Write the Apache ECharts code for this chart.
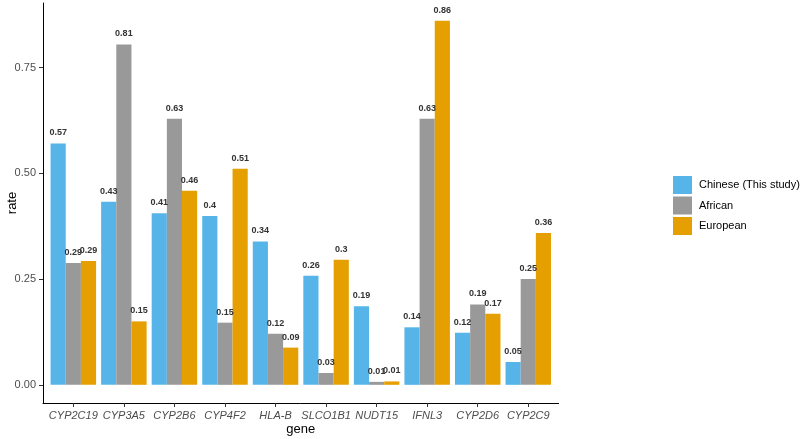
<!DOCTYPE html>
<html>
<head>
<meta charset="utf-8">
<script src="https://cdn.jsdelivr.net/npm/echarts@6/dist/echarts.min.js"></script>
<style>html,body{margin:0;padding:0;background:#fff;}#c{width:800px;height:439px;}</style>
</head>
<body>
<div id="c"></div>
<script>
var genes = ['CYP2C19','CYP3A5','CYP2B6','CYP4F2','HLA-B','SLCO1B1','NUDT15','IFNL3','CYP2D6','CYP2C9'];
var chinese = [0.571, 0.433, 0.406, 0.399, 0.339, 0.258, 0.186, 0.136, 0.123, 0.054];
var african = [0.288, 0.805, 0.629, 0.147, 0.121, 0.028, 0.007, 0.629, 0.190, 0.250];
var european = [0.293, 0.150, 0.459, 0.511, 0.088, 0.296, 0.008, 0.861, 0.168, 0.359];
var yTicks = [0, 0.25, 0.5, 0.75];
var seriesNames = ['Chinese (This study)', 'African', 'European'];
var colors = ['#56B4E9', '#999999', '#E69F00'];

var FONT = 'Liberation Sans, Arial, sans-serif';
var yMin = -0.043, yMax = 0.903;
var chart = echarts.init(document.getElementById('c'));

function mk(name, data, color) {
  return {
    name: name, type: 'bar', xAxisIndex: 1, yAxisIndex: 1, data: data,
    barGap: '0%', barCategoryGap: '10%',
    itemStyle: { color: color },
    label: {
      show: true, position: 'top', distance: 6,
      fontFamily: FONT, fontSize: 9, fontWeight: 'bold', color: '#333',
      formatter: function (p) { return String(Math.round(p.value * 100) / 100); }
    },
    animation: false
  };
}

chart.setOption({
  animation: false,
  grid: [
    { left: 43, right: 241.4, top: 3, bottom: 36, outerBoundsMode: 'none', containLabel: false },
    { left: 48.05, right: 246.45, top: 3, bottom: 36, outerBoundsMode: 'none', containLabel: false }
  ],
  legend: {
    orient: 'vertical', left: 673, top: 176, padding: 0,
    itemWidth: 19, itemHeight: 18, itemGap: 2.5,
    icon: 'rect',
    data: seriesNames,
    textStyle: { fontFamily: FONT, fontSize: 11, color: '#000', padding: [0, 0, 0, 2] }
  },
  xAxis: [
    { gridIndex: 0, type: 'value', min: 0, max: 1,
      axisLine: { show: true, onZero: false, lineStyle: { color: '#000', width: 1 } },
      axisTick: { show: false }, axisLabel: { show: false }, splitLine: { show: false } },
    { gridIndex: 1, type: 'category', data: genes,
      name: 'gene', nameLocation: 'middle', nameGap: 20, nameMoveOverlap: false,
      nameTextStyle: { fontFamily: FONT, fontSize: 13, color: '#000' },
      axisLine: { show: false, onZero: false },
      axisTick: { show: true, alignWithLabel: true, interval: 0, length: 4, lineStyle: { color: '#333' } },
      axisLabel: { interval: 0, fontFamily: FONT, fontSize: 11, fontStyle: 'italic', color: '#4d4d4d', margin: 7 },
      splitLine: { show: false } }
  ],
  yAxis: [
    { gridIndex: 0, type: 'value', min: yMin, max: yMax,
      name: 'rate', nameLocation: 'middle', nameGap: 24, nameRotate: 90, nameMoveOverlap: false,
      nameTextStyle: { fontFamily: FONT, fontSize: 13, color: '#000' },
      axisLine: { show: true, onZero: false, lineStyle: { color: '#000', width: 1 } },
      axisTick: { show: true, length: 4, customValues: yTicks, lineStyle: { color: '#333' } },
      axisLabel: { fontFamily: FONT, fontSize: 11, color: '#4d4d4d', margin: 7, customValues: yTicks,
        formatter: function (v) { return v.toFixed(2); } },
      splitLine: { show: false } },
    { gridIndex: 1, type: 'value', min: yMin, max: yMax, show: false, splitLine: { show: false } }
  ],
  series: [
    mk(seriesNames[0], chinese, colors[0]),
    mk(seriesNames[1], african, colors[1]),
    mk(seriesNames[2], european, colors[2])
  ]
});
</script>
</body>
</html>
